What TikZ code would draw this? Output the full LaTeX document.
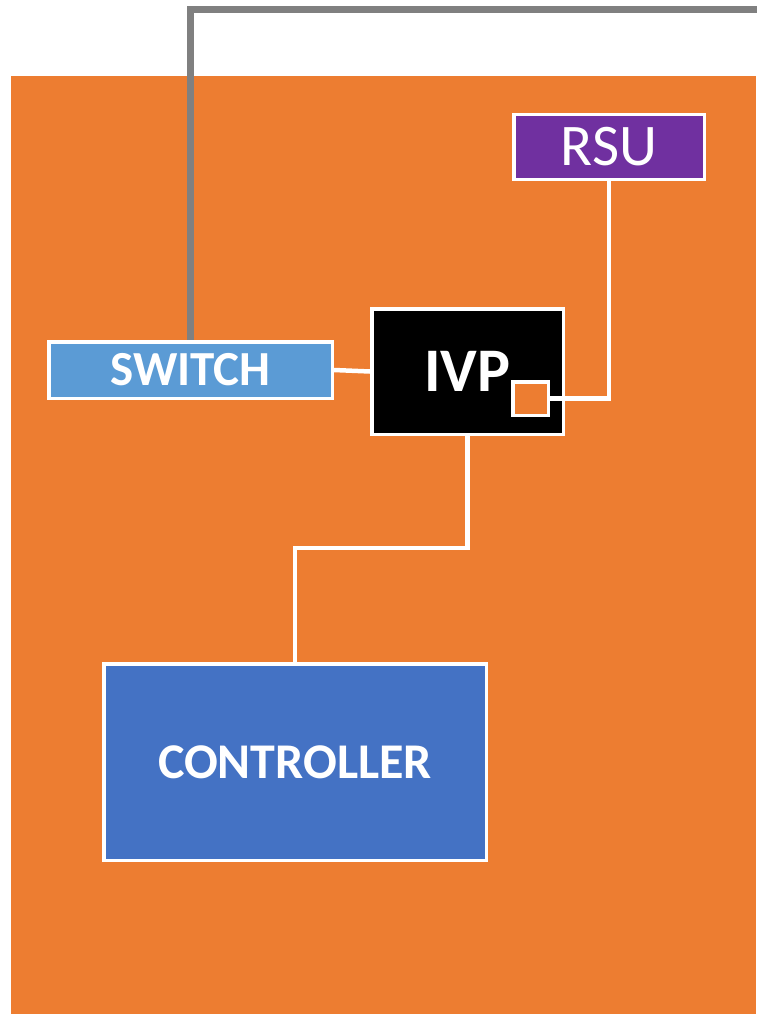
\documentclass[tikz,border=0pt]{standalone}
\usepackage{fontspec}
\setmainfont{Carlito}
\definecolor{cabinet}{HTML}{ED7D31}
\definecolor{swblue}{HTML}{5B9BD5}
\definecolor{ctrlblue}{HTML}{4472C4}
\definecolor{rsupurple}{HTML}{7030A0}
\definecolor{cablegray}{HTML}{808080}
\pgfdeclarelayer{base}
\pgfdeclarelayer{back}
\pgfsetlayers{base,back,main}
\tikzset{
  unit/.style={draw=white, line width=3.5pt, inner sep=0pt, text=white, align=center},
  wire/.style={draw=white, line width=4.5pt},
  cable/.style={draw=cablegray, line width=7pt, line join=miter},
}
\begin{document}
\begin{tikzpicture}[x=1pt,y=1pt]
  \useasboundingbox (0,0) rectangle (757,-1014);
  % cabinet body
  \begin{pgfonlayer}{base}
    \fill[cabinet] (10.5,-76) rectangle (756,-1014);
  \end{pgfonlayer}
  % boxes
  \node[unit, fill=swblue, minimum width=283.5pt, minimum height=56.5pt]
    (sw) at (190.5,-370) {\fontsize{49}{53}\selectfont\bfseries SWITCH};
  \node[unit, fill=black, minimum width=191.5pt, minimum height=125.5pt]
    (ivp) at (467.5,-371.5) {\fontsize{62}{66}\selectfont\bfseries IVP};
  \node[unit, fill=cabinet, minimum width=35.5pt, minimum height=33.5pt]
    (port) at (530.5,-398.5) {};
  \node[unit, fill=rsupurple, minimum width=190.5pt, minimum height=64.5pt]
    (rsu) at (609,-147) {\fontsize{59}{63}\selectfont RSU};
  \node[unit, fill=ctrlblue, minimum width=382.5pt, minimum height=196.5pt]
    (ctrl) at (295,-762) {\fontsize{50}{54}\selectfont\bfseries CONTROLLER};
  \coordinate (feed) at (757,-10);
  \coordinate (bend) at (295,-548);
  % outside feed cable, running behind the switch
  \begin{pgfonlayer}{back}
    \draw[cable] (sw.north) |- (feed);
  \end{pgfonlayer}
  % links
  \draw[wire] (sw.east) -- (ivp.west);
  \draw[wire] (port.east) -| (rsu.south);
  \draw[wire] (ivp.south) |- (bend) -- (ctrl.north);
\end{tikzpicture}
\end{document}
